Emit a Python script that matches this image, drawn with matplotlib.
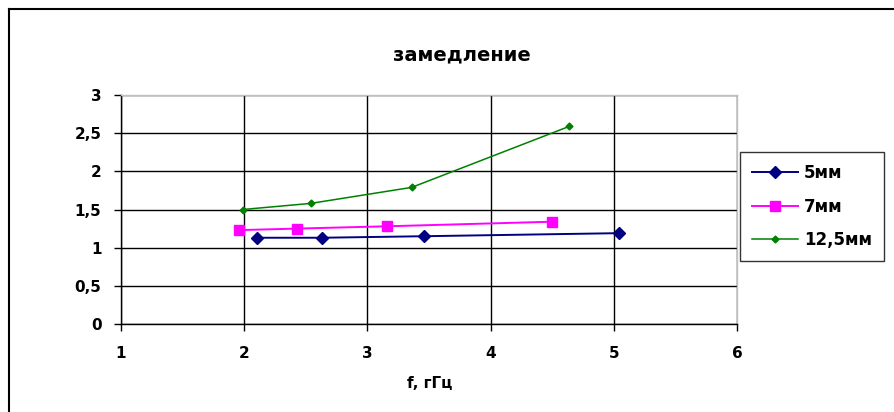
import matplotlib
matplotlib.use('Agg')
import matplotlib.pyplot as plt
from matplotlib.lines import Line2D

plt.rcParams['font.family'] = ['DejaVu Sans']
plt.rcParams['font.weight'] = 'bold'

# ==================== данные ====================
f_5mm = [2.10, 2.63, 3.46, 5.04]
v_5mm = [1.13, 1.13, 1.15, 1.19]

f_7mm = [1.96, 2.43, 3.16, 4.50]
v_7mm = [1.23, 1.25, 1.28, 1.34]

f_12mm = [1.99, 2.54, 3.36, 4.64]
v_12mm = [1.50, 1.58, 1.79, 2.59]

x_ticks = [1, 2, 3, 4, 5, 6]
y_ticks = [0, 0.5, 1, 1.5, 2, 2.5, 3]
y_labels = ['0', '0,5', '1', '1,5', '2', '2,5', '3']

# ==================== график ====================
fig = plt.figure(figsize=(8.95, 4.12), dpi=100, facecolor='white')
ax = fig.add_axes([121 / 895, 1 - 324 / 412, 616 / 895, 229 / 412])

ax.plot(f_5mm, v_5mm, color='#000080', marker='D', markersize=6,
        linewidth=1.4, label='5мм', zorder=3)
ax.plot(f_7mm, v_7mm, color='#FF00FF', marker='s', markersize=7,
        linewidth=1.4, label='7мм', zorder=3)
ax.plot(f_12mm, v_12mm, color='#008000', marker='D', markersize=3.5,
        linewidth=1.1, label='12,5мм', zorder=3)

ax.set_xlim(1, 6)
ax.set_ylim(0, 3)
ax.set_xticks(x_ticks)
ax.set_xticklabels([str(t) for t in x_ticks])
ax.set_yticks(y_ticks)
ax.set_yticklabels(y_labels)
ax.grid(True, color='black', linewidth=1)
ax.set_axisbelow(True)

for s in ['top', 'right']:
    ax.spines[s].set_color('#c0c0c0')
    ax.spines[s].set_linewidth(1)
for s in ['left', 'bottom']:
    ax.spines[s].set_color('black')
    ax.spines[s].set_linewidth(1)

ax.tick_params(direction='out', length=5, width=1, labelsize=11)
ax.tick_params(axis='x', pad=11)
ax.tick_params(axis='y', pad=9)
for lab in ax.get_xticklabels() + ax.get_yticklabels():
    lab.set_fontweight('bold')

fig.text(462 / 895, 1 - 55 / 412, 'замедление', ha='center', va='center',
         fontsize=14, fontweight='bold')
fig.text(430 / 895, 1 - 383 / 412, 'f, гГц', ha='center', va='center',
         fontsize=11, fontweight='bold')

leg = fig.legend(loc='upper left', bbox_to_anchor=(740 / 895, 1 - 152 / 412),
                 fontsize=12, frameon=True, fancybox=False, handlelength=2.8,
                 handletextpad=0.35, labelspacing=0.95, borderpad=0.7,
                 borderaxespad=0)
leg.get_frame().set_edgecolor('black')
leg.get_frame().set_linewidth(1)
for t in leg.get_texts():
    t.set_fontweight('bold')

# внешняя рамка диаграммы
fig.add_artist(Line2D([9 / 895, 1], [1 - 9 / 412, 1 - 9 / 412],
                      transform=fig.transFigure, color='black', linewidth=1.5))
fig.add_artist(Line2D([9 / 895, 9 / 895], [0, 1 - 9 / 412],
                      transform=fig.transFigure, color='black', linewidth=1.5))

fig.savefig('out.png', dpi=100, facecolor='white')
